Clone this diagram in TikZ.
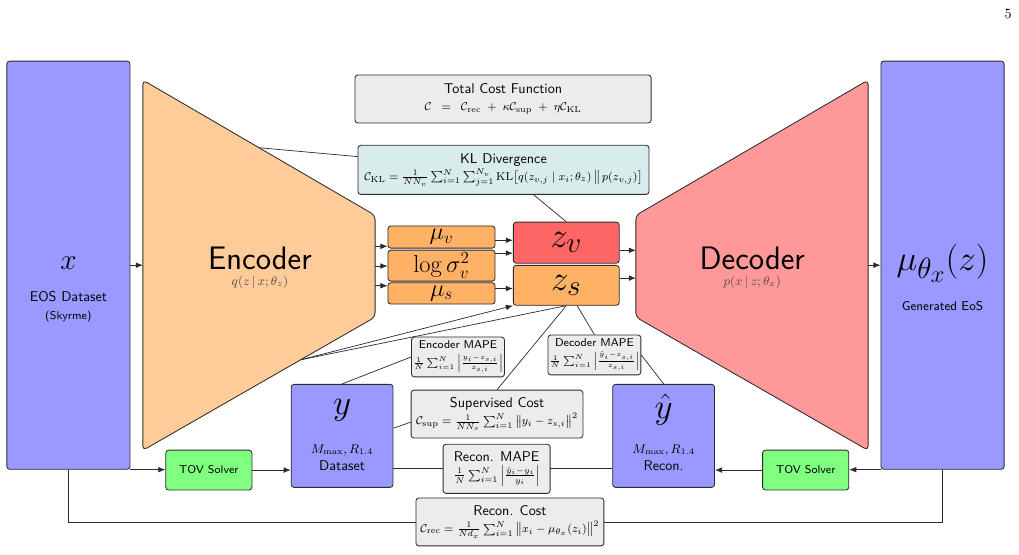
\documentclass[tikz,border=0pt]{standalone}
\usepackage{amsmath}
\usepackage{tikz}
\usetikzlibrary{arrows.meta,calc,backgrounds}
\renewcommand{\familydefault}{\sfdefault}
\definecolor{edge}{HTML}{2B2B2B}

\tikzset{
  box/.style={draw=edge, line width=0.6pt, rounded corners=2pt, align=center, inner sep=1pt},
  databox/.style={box, fill=blue!40, minimum width=3.06cm, minimum height=10.14cm},
  outbox/.style={box, fill=blue!40, minimum width=2.53cm, minimum height=2.56cm},
  costbox/.style={box, fill=gray!15},
  latbox/.style={box, fill=orange!60, minimum width=2.66cm, font=\LARGE},
  zbox/.style={box, minimum width=2.63cm, font=\Huge},
  solver/.style={box, fill=green!50, minimum width=2.14cm, minimum height=0.99cm, font=\footnotesize},
  netshape/.style={draw=edge, line width=0.6pt, rounded corners=3pt},
  link/.style={draw=edge, line width=0.5pt},
  flow/.style={link, -{Latex[length=5pt,width=4pt]}}
}

\begin{document}
\begin{tikzpicture}
\useasboundingbox (0,0) rectangle (25.32,13.77);

% page number
\node[font=\rmfamily] at (25.05,13.42) {5};

% ===== Input data =====
\node[databox] (xin) at (1.70,7.18) {};
\node[font=\huge] at (1.70,7.23) {$x$};
\node at (1.70,6.39) {EOS Dataset};
\node[font=\footnotesize] at (1.70,5.89) {(Skyrme)};

% ===== Encoder =====
\coordinate (enc-tl) at (3.55,11.78);
\coordinate (enc-tr) at (9.32,8.42);
\coordinate (enc-br) at (9.32,5.89);
\coordinate (enc-bl) at (3.55,2.58);
\draw[netshape, fill=orange!40] (enc-tl) -- (enc-tr) -- (enc-br) -- (enc-bl) -- cycle;
\coordinate (enc-top) at ($(enc-tl)!0.5!(enc-tr)$);
\coordinate (enc-bot) at ($(enc-br)!0.32!(enc-bl)$);
\node[font=\fontsize{23}{28}\selectfont] at (6.46,7.36) {Encoder};
\node[font=\small, black!70] at (6.46,6.76) {$q(z\,|\,x;\theta_z)$};

% ===== Latent parameters =====
\node[latbox, minimum height=0.55cm] (muv) at (10.97,7.88) {$\mu_v$};
\node[latbox, minimum height=0.77cm] (logv) at (10.97,7.17) {$\log\sigma_v^2$};
\node[latbox, minimum height=0.53cm] (mus) at (10.97,6.48) {$\mu_s$};

\node[zbox, fill=red!60, minimum height=1.02cm] (zv) at (14.07,7.74) {$z_v$};
\node[zbox, fill=orange!60, minimum height=0.99cm] (zs) at (14.07,6.68) {$z_s$};

% ===== Decoder =====
\coordinate (dec-tl) at (15.80,8.42);
\coordinate (dec-tr) at (21.57,11.78);
\coordinate (dec-br) at (21.57,2.58);
\coordinate (dec-bl) at (15.80,5.89);
\draw[netshape, fill=red!40] (dec-tl) -- (dec-tr) -- (dec-br) -- (dec-bl) -- cycle;
\node[font=\fontsize{23}{28}\selectfont] at (18.69,7.36) {Decoder};
\node[font=\small, black!70] at (18.69,6.76) {$p(x\,|\,z;\theta_x)$};

% ===== Output =====
\node[databox] (mu) at (23.42,7.18) {};
\node[font=\Huge] at (23.42,7.23) {$\mu_{\theta_x}(z)$};
\node[font=\small] at (23.42,6.16) {Generated EoS};

% ===== Cost terms =====
\node[costbox, minimum width=7.36cm, minimum height=1.19cm] (tcost) at (12.50,11.31)
  {Total Cost Function\\
   {\footnotesize $\mathcal{C} \;\;=\;\; \mathcal{C}_{\mathrm{rec}} \;+\; \kappa\mathcal{C}_{\mathrm{sup}} \;+\; \eta\mathcal{C}_{\mathrm{KL}}$}};
\node[costbox, fill=teal!15, minimum width=7.23cm, minimum height=1.22cm] (kl) at (12.51,9.55)
  {KL Divergence\\
   {\footnotesize $\mathcal{C}_{\mathrm{KL}} = \frac{1}{NN_v}\sum_{i=1}^{N}\sum_{j=1}^{N_v}\mathrm{KL}\big[q(z_{v,j}\mid x_i;\theta_z)\,\big\|\,p(z_{v,j})\big]$}};
\node[costbox, minimum width=2.09cm, minimum height=0.99cm] (emape) at (11.38,4.90)
  {{\footnotesize Encoder MAPE}\\
   {\scriptsize $\frac{1}{N}\sum_{i=1}^{N}\left|\frac{y_i-z_{s,i}}{z_{s,i}}\right|$}};
\node[costbox, minimum width=2.11cm, minimum height=0.99cm] (dmape) at (14.77,4.95)
  {{\footnotesize Decoder MAPE}\\
   {\scriptsize $\frac{1}{N}\sum_{i=1}^{N}\left|\frac{\hat{y}_i-z_{s,i}}{z_{s,i}}\right|$}};
\node[costbox, minimum width=4.27cm, minimum height=1.19cm] (sup) at (12.35,3.48)
  {Supervised Cost\\
   {\footnotesize $\mathcal{C}_{\mathrm{sup}} = \frac{1}{NN_s}\sum_{i=1}^{N}\big\|y_i - z_{s,i}\big\|^2$}};
\node[costbox, minimum width=2.66cm, minimum height=1.22cm] (rmape) at (12.34,2.12)
  {Recon. MAPE\\
   {\footnotesize $\frac{1}{N}\sum_{i=1}^{N}\left|\frac{\hat{y}_i-y_i}{y_i}\right|$}};
\node[costbox, minimum width=4.67cm, minimum height=1.19cm] (rcost) at (12.67,0.80)
  {Recon. Cost\\
   {\footnotesize $\mathcal{C}_{\mathrm{rec}} = \frac{1}{Nd_x}\sum_{i=1}^{N}\big\|x_i - \mu_{\theta_x}(z_i)\big\|^2$}};

% ===== Observables =====
\node[outbox] (ybox) at (8.50,2.94) {};
\node[font=\Huge] at (8.50,3.58) {$y$};
\node[font=\small] at (8.50,2.58) {$M_{\max}, R_{1.4}$};
\node at (8.50,2.19) {Dataset};

\node[outbox] (yhat) at (16.49,2.94) {};
\node[font=\Huge] at (16.49,3.58) {$\hat{y}$};
\node[font=\small] at (16.49,2.58) {$M_{\max}, R_{1.4}$};
\node at (16.49,2.19) {Recon.};

\node[solver] (tovl) at (5.19,2.09) {TOV Solver};
\node[solver] (tovr) at (20.02,2.09) {TOV Solver};

% ===== Forward flow =====
\draw[flow] (xin.east) -- (xin.east -| enc-tl);
\coordinate (enc-o1) at (9.32,7.65);
\coordinate (enc-o2) at (9.32,7.16);
\coordinate (enc-o3) at (9.32,6.67);
\draw[flow] (enc-o1) -- (enc-o1 -| muv.west);
\draw[flow] (enc-o2) -- (enc-o2 -| logv.west);
\draw[flow] (enc-o3) -- (enc-o3 -| mus.west);
\draw[flow] ([yshift=-0.08cm]muv.east) -- ([yshift=-0.08cm]muv.east -| zv.west);
\draw[flow] ([yshift=0.31cm]logv.east) -- ([yshift=0.31cm]logv.east -| zv.west);
\draw[flow] ([yshift=0.12cm]mus.east) -- ([yshift=0.12cm]mus.east -| zs.west);
\draw[flow] ([yshift=-0.19cm]zv.east) -- ([yshift=-0.19cm]zv.east -| dec-tl);
\draw[flow] ([yshift=0.18cm]zs.east) -- ([yshift=0.18cm]zs.east -| dec-tl);
\draw[flow] (mu.west -| dec-tr) -- (mu.west);
\draw[flow] (enc-bot) -- (zs.south west);
\draw[link] (enc-bot) -- (zs.south);

% TOV branches
\draw[flow] (xin.south east) -- (xin.south east -| tovl.west);
\draw[flow] (tovl.east) -- (tovl.east -| ybox.west);
\draw[flow] (mu.south west) -- (mu.south west -| tovr.east);
\draw[flow] (tovr.west) -- (tovr.west -| yhat.east);

% ===== Cost links (behind the boxes) =====
\begin{scope}[on background layer]
  \draw[link] (enc-top) -- (kl.center);
  \draw[link] (zv.north) -- (kl.center);
  \draw[link] (ybox.north) -- (emape.west);
  \draw[link] (zs.south) -- (sup.north);
  \draw[link] ([yshift=0.19cm]ybox.east) -- ([yshift=-0.2cm]sup.west);
  \draw[link] ([xshift=0.27cm]zs.south) -- (dmape.north);
  \draw[link] (dmape.east) -- (yhat.north);
  \draw[link] (ybox.east |- rmape) -- (yhat.west |- rmape);
  \draw[link] (xin.south) |- (rcost.west);
  \draw[link] (mu.south) |- (rcost.east);
\end{scope}

\end{tikzpicture}
\end{document}
